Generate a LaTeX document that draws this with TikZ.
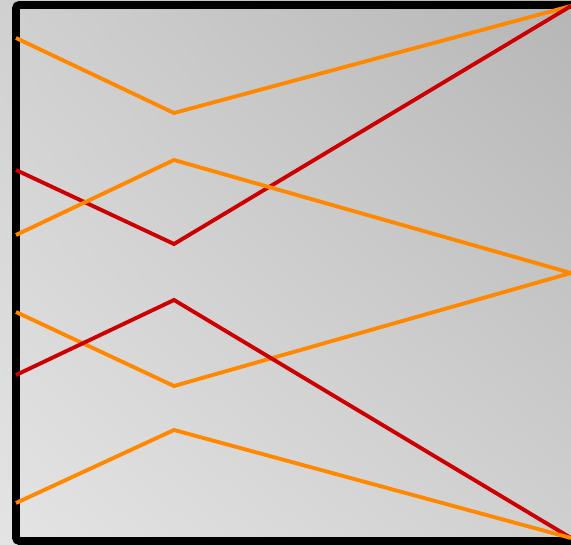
\documentclass[tikz,border=0pt]{standalone}
\usetikzlibrary{shadings}
\definecolor{wireorange}{RGB}{255,136,0}
\definecolor{wirered}{RGB}{204,0,0}
\definecolor{bglight}{RGB}{228,228,228}
\definecolor{bgmid}{RGB}{208,208,208}
\definecolor{bgdark}{RGB}{182,182,182}
\begin{document}
\begin{tikzpicture}[x=0.03cm,y=0.03cm,
  wire/.style={line width=3.3pt,line join=miter}]
\clip (0,0) rectangle (571,545);
\shade[lower left=bglight,upper right=bgdark,upper left=bgmid,lower right=bgmid]
  (0,0) rectangle (571,545);
\draw[line width=6.8pt,rounded corners=3pt] (16,4) rectangle (640,540);

% left column
\foreach \n/\y in {1/507,2/375,3/310,4/233,5/170,6/42}
  \coordinate (in\n) at (16,\y);
% middle column
\foreach \n/\y in {1/432,2/301,3/385,4/159,5/245,6/115}
  \coordinate (mid\n) at (174,\y);
% right column
\coordinate (outtop) at (571,539);
\coordinate (outmid) at (571,272);
\coordinate (outbot) at (571,7);

\foreach \n/\o/\col in {1/outtop/wireorange,2/outtop/wirered,3/outmid/wireorange,
                        4/outmid/wireorange,5/outbot/wirered,6/outbot/wireorange}
  \draw[wire,\col] (in\n) -- (mid\n) -- (\o);
\end{tikzpicture}
\end{document}
